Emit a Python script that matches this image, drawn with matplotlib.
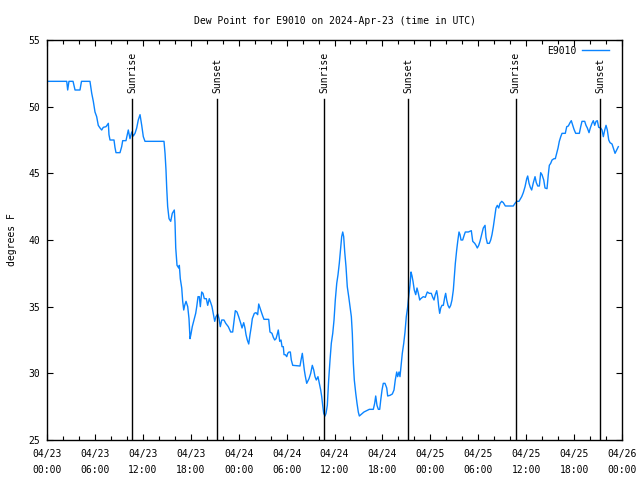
import matplotlib
matplotlib.use("Agg")
import matplotlib.pyplot as plt
import matplotlib.dates as mdates
import pandas as pd

plt.rcParams['font.family'] = ['DejaVu Sans Mono']
plt.rcParams['font.size'] = 7

inicio = pd.Timestamp('2024-04-23 00:00')
fim = pd.Timestamp('2024-04-26 00:00')

# horas desde 04/23 00:00 UTC
horas = [0, 2.47, 2.59, 2.75, 3.26, 3.51, 4.13, 4.32, 5.38, 5.60, 5.80, 6.01, 6.22, 6.42, 6.64, 6.85,
         7.05, 7.39, 7.68, 7.76, 7.89, 8.39, 8.51, 8.64, 9.14, 9.35, 9.48, 9.89, 10.06, 10.18, 10.39,
         10.61, 10.81, 11.02, 11.23, 11.43, 11.65, 11.86, 12.06, 12.27, 14.65, 14.78, 14.90, 14.99,
         15.11, 15.28, 15.49, 15.69, 15.94, 16.03, 16.12, 16.28, 16.49, 16.57, 16.69, 16.87, 16.99,
         17.12, 17.24, 17.41, 17.62, 17.78, 17.91, 18.03, 18.19, 18.41, 18.62, 18.75, 18.91, 19.07,
         19.20, 19.37, 19.53, 19.70, 19.95, 20.12, 20.32, 20.50, 20.66, 20.82, 21.00, 21.16, 21.38,
         21.54, 21.70, 21.88, 22.16, 22.38, 22.70, 23.00, 23.25, 23.42, 23.58, 23.79, 24.00, 24.26,
         24.42, 24.63, 24.79, 24.92, 25.08, 25.26, 25.42, 25.58, 25.71, 25.96, 26.17, 26.38, 26.51,
         26.67, 26.84, 27.01, 27.17, 27.76, 27.92, 28.17, 28.34, 28.51, 28.68, 28.84, 28.96, 29.14,
         29.30, 29.43, 29.59, 29.68, 29.84, 30.02, 30.14, 30.30, 30.47, 30.59, 30.77, 31.68, 31.81,
         31.97, 32.09, 32.22, 32.34, 32.52, 32.64, 32.81, 33.02, 33.22, 33.40, 33.56, 33.72, 33.93,
         34.10, 34.27, 34.40, 34.52, 34.65, 34.81, 34.94, 35.10, 35.27, 35.44, 35.60, 35.78, 35.94,
         36.10, 36.28, 36.44, 36.60, 36.78, 36.90, 37.03, 37.15, 37.28, 37.44, 37.60, 37.78, 37.94,
         38.11, 38.23, 38.36, 38.48, 38.66, 38.82, 38.98, 39.11, 39.41, 39.69, 40.03, 40.36, 40.86,
         41.03, 41.16, 41.32, 41.49, 41.66, 41.79, 41.95, 42.11, 42.32, 42.54, 42.66, 42.95, 43.24,
         43.45, 43.61, 43.79, 43.91, 44.08, 44.20, 44.33, 44.49, 44.67, 44.83, 44.99, 45.17, 45.29,
         45.45, 45.58, 45.71, 45.83, 45.99, 46.17, 46.33, 46.50, 46.67, 46.80, 47.12, 47.37, 47.62,
         47.87, 48.12, 48.30, 48.46, 48.62, 48.80, 48.92, 49.05, 49.17, 49.30, 49.46, 49.63, 49.80,
         49.92, 50.05, 50.21, 50.38, 50.55, 50.71, 50.88, 51.00, 51.13, 51.30, 51.43, 51.59, 51.72,
         51.84, 52.05, 52.26, 52.38, 52.76, 53.13, 53.31, 53.56, 53.72, 53.88, 54.06, 54.22, 54.43,
         54.63, 54.85, 54.97, 55.14, 55.39, 55.56, 55.72, 55.89, 56.06, 56.22, 56.39, 56.56, 56.73,
         56.94, 57.14, 57.39, 58.39, 58.60, 58.82, 59.10, 59.44, 59.64, 59.86, 60.07, 60.19, 60.36,
         60.52, 60.69, 60.90, 61.11, 61.27, 61.45, 61.65, 61.82, 61.98, 62.20, 62.36, 62.61, 62.77,
         62.90, 63.07, 63.24, 63.49, 63.65, 63.82, 63.99, 64.15, 64.33, 64.49, 64.90, 65.08, 65.28,
         65.49, 65.65, 65.83, 65.99, 66.20, 66.66, 66.83, 66.99, 67.33, 67.49, 67.66, 67.87, 68.03,
         68.24, 68.41, 68.58, 68.75, 68.91, 69.08, 69.33, 69.50, 69.66, 69.84, 70.00, 70.16, 70.34,
         70.50, 70.75, 70.91, 71.13, 71.34, 71.54]

# ponto de orvalho (F)
orvalho = [51.9, 51.9, 51.25, 51.9, 51.9, 51.25, 51.25, 51.9, 51.9, 51.0, 50.4, 49.6, 49.25, 48.6, 48.4, 48.25,
           48.45, 48.5, 48.75, 47.9, 47.5, 47.5, 46.95, 46.55, 46.55, 47.0, 47.45, 47.45, 47.9, 48.25, 47.6,
           48.1, 47.8, 48.0, 48.4, 49.0, 49.4, 48.6, 47.75, 47.4, 47.4, 46.5, 45.25, 43.9,
           42.5, 41.6, 41.4, 42.0, 42.25, 41.3, 39.4, 38.1, 37.9, 38.1, 37.1, 36.4, 35.4,
           34.75, 35.1, 35.4, 35.0, 34.1, 32.6, 32.95, 33.5, 34.0, 34.5, 35.0, 35.75, 35.75,
           35.0, 36.1, 36.0, 35.6, 35.6, 35.1, 35.6, 35.3, 35.0, 34.5, 33.9, 34.25, 34.45,
           34.1, 33.5, 34.0, 34.0, 33.75, 33.5, 33.1, 33.1, 33.9, 34.7, 34.6, 34.25, 33.75,
           33.4, 33.8, 33.4, 32.9, 32.5, 32.2, 32.9, 33.5, 34.1, 34.5, 34.55, 34.4, 35.2,
           34.9, 34.6, 34.3, 34.05, 34.05, 33.1, 33.0, 32.7, 32.5, 32.6, 32.95, 33.25, 32.4,
           32.5, 32.0, 32.0, 31.4, 31.4, 31.25, 31.5, 31.6, 31.6, 31.0, 30.6, 30.55, 31.0,
           31.5, 30.9, 30.25, 29.8, 29.25, 29.4, 29.6, 30.0, 30.6, 30.25, 29.75, 29.5, 29.75,
           29.25, 28.75, 28.25, 27.6, 27.0, 26.8, 27.0, 27.6, 29.5, 31.0, 32.25, 33.0, 34.0,
           35.5, 36.75, 37.4, 38.25, 39.5, 40.25, 40.6, 40.25, 39.1, 38.0, 36.5, 35.75, 35.0,
           34.25, 33.0, 30.75, 29.5, 28.5, 27.75, 27.1, 26.8, 26.95, 27.1, 27.2, 27.3, 27.3,
           27.75, 28.3, 27.6, 27.3, 27.3, 28.0, 28.75, 29.25, 29.25, 28.9, 28.3, 28.35, 28.45,
           28.75, 29.5, 30.1, 29.75, 30.1, 29.75, 30.5, 31.5, 32.25, 33.1, 34.25, 35.0, 35.75,
           36.6, 37.6, 37.3, 36.9, 36.25, 35.9, 36.4, 36.0, 35.5, 35.6, 35.75, 35.7, 36.1,
           36.0, 36.0, 35.7, 35.5, 35.9, 36.2, 35.75, 35.0, 34.5, 34.9, 35.1, 35.1, 35.7,
           36.0, 35.5, 35.1, 34.9, 35.1, 35.5, 36.25, 37.25, 38.25, 39.25, 39.9, 40.6, 40.4,
           40.0, 40.0, 40.4, 40.6, 40.6, 40.7, 39.9, 39.75, 39.6, 39.4, 39.6, 39.9, 40.4,
           40.9, 41.1, 40.2, 39.75, 39.75, 40.0, 40.4, 41.0, 41.75, 42.4, 42.6, 42.4, 42.75,
           42.9, 42.8, 42.55, 42.55, 42.75, 42.9, 42.9, 43.25, 43.55, 44.0, 44.6, 44.8, 44.25,
           43.95, 43.75, 44.3, 44.75, 44.3, 44.05, 44.05, 45.05, 44.9, 44.5, 43.9, 43.85, 44.9,
           45.6, 45.75, 46.0, 46.1, 46.1, 46.5, 46.9, 47.4, 47.75, 48.0, 48.0, 48.5, 48.55,
           48.8, 48.95, 48.6, 48.3, 48.0, 48.0, 48.5, 48.9, 48.9, 48.6, 48.4, 48.05, 48.4,
           48.75, 48.95, 48.6, 48.9, 48.95, 48.45, 48.4, 48.25, 47.75, 48.25, 48.6, 48.25, 47.5,
           47.3, 47.2, 46.9, 46.5, 46.75, 47.0]

eventos = ['Sunrise', 'Sunset', 'Sunrise', 'Sunset', 'Sunrise', 'Sunset']
horarios_eventos = ['2024-04-23 10:42', '2024-04-23 21:17', '2024-04-24 10:43',
                    '2024-04-24 21:14', '2024-04-25 10:41', '2024-04-25 21:17']

tempos = inicio + pd.to_timedelta(horas, unit='h')

fig = plt.figure(figsize=(6.4, 4.8), dpi=100)
ax = fig.add_axes([47 / 640, 40 / 480, 575 / 640, 400 / 480])

ax.plot(tempos, orvalho, color='#0a84ff', linewidth=1, label='E9010')

for nome, hora in zip(eventos, horarios_eventos):
    t = pd.Timestamp(hora)
    ax.plot([t, t], [25, 50.6], color='black', linewidth=1)
    ax.text(t, 51.05, nome, rotation=90, ha='center', va='bottom')

ax.set_xlim(inicio, fim)
ax.set_ylim(25, 55)
ax.set_yticks([25, 30, 35, 40, 45, 50, 55])
ax.xaxis.set_major_locator(mdates.HourLocator(byhour=[0, 6, 12, 18]))
ax.xaxis.set_minor_locator(mdates.HourLocator(byhour=range(0, 24, 2)))
ax.xaxis.set_major_formatter(mdates.DateFormatter('%m/%d\n%H:%M'))
ax.tick_params(which='both', direction='in', top=True, right=True, width=0.8)
ax.tick_params(which='major', length=4)
ax.tick_params(axis='x', pad=6.5)
ax.tick_params(axis='y', pad=5)
ax.tick_params(which='minor', length=3)
plt.setp(ax.get_xticklabels(), linespacing=1.75)
for s in ax.spines.values():
    s.set_linewidth(1)

ax.set_ylabel('degrees F', labelpad=8)
ax.set_title('Dew Point for E9010 on 2024-Apr-23 (time in UTC)', fontsize=7, pad=11.5)
ax.legend(loc='upper right', bbox_to_anchor=(0.988, 1.0), frameon=False, markerfirst=False,
          handlelength=2.8, borderaxespad=0.2, handletextpad=0.6)

fig.savefig('out.png', dpi=100)
